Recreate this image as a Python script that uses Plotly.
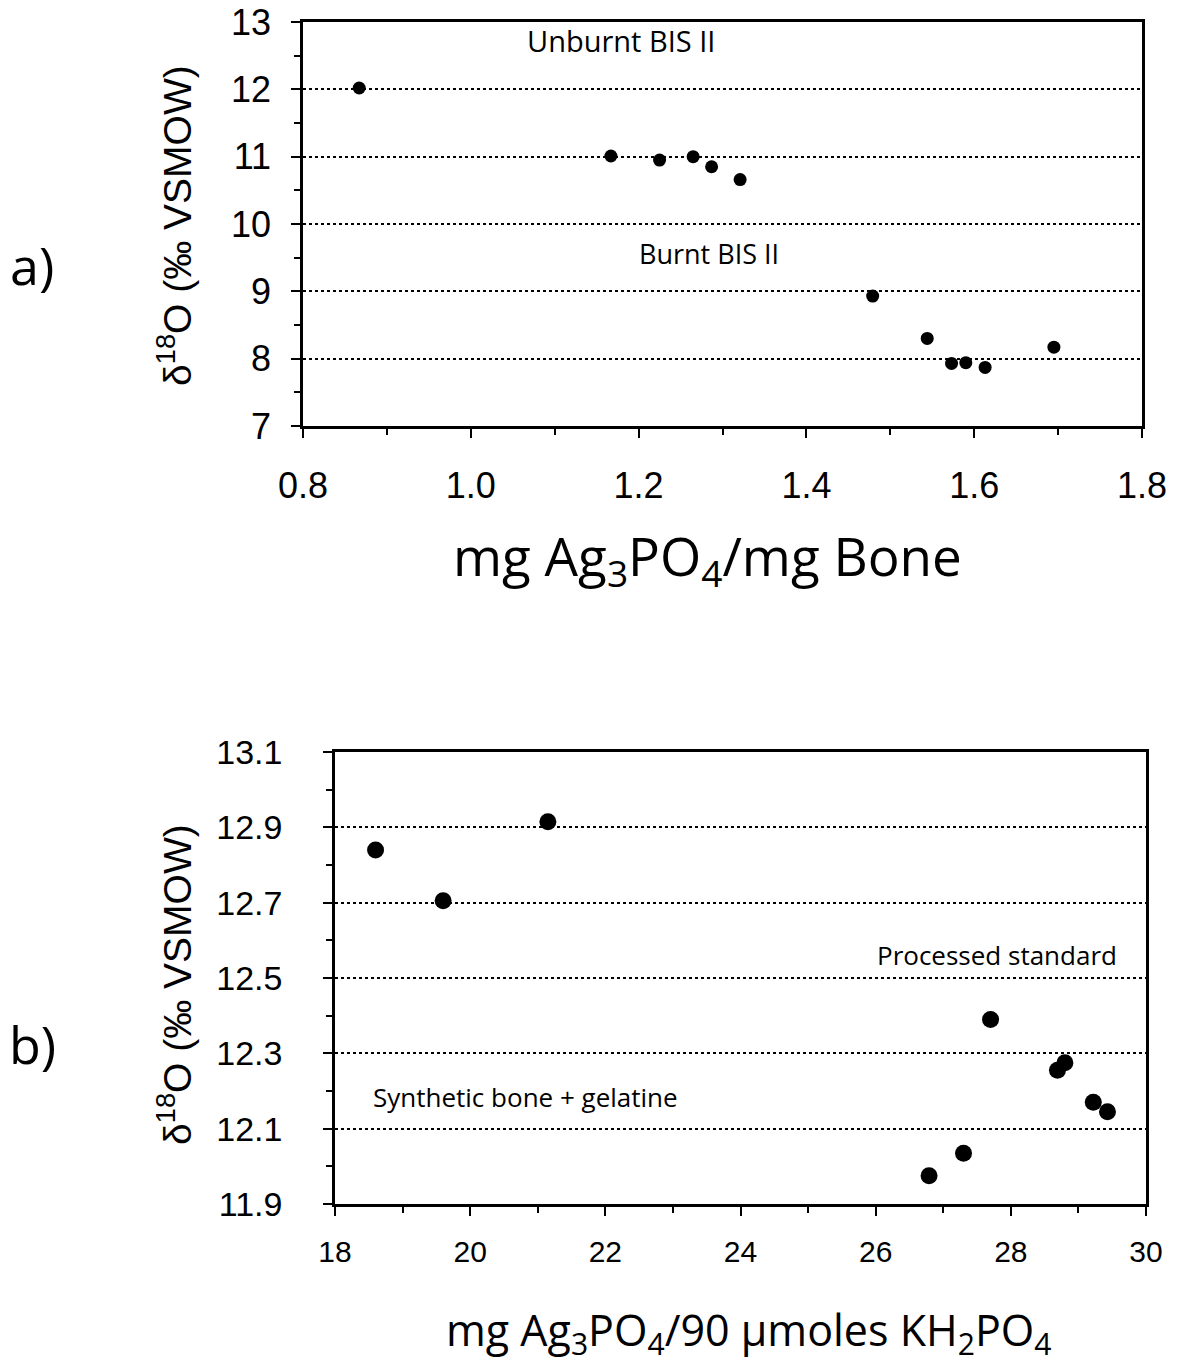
import plotly.graph_objects as go

# ---- data (panel a) ----
a_x = [0.867, 1.167, 1.225, 1.265, 1.287, 1.321, 1.479, 1.544, 1.573, 1.590, 1.613, 1.695]
a_y = [12.02, 11.01, 10.95, 11.00, 10.85, 10.66, 8.93, 8.30, 7.93, 7.94, 7.87, 8.17]
a_xticks = [0.8, 1.0, 1.2, 1.4, 1.6, 1.8]
a_xticklabels = ["0.8", "1.0", "1.2", "1.4", "1.6", "1.8"]
a_yticks = [7, 8, 9, 10, 11, 12, 13]

# ---- data (panel b) ----
b_x = [18.6, 19.6, 21.15, 27.70, 28.80, 28.69, 29.22, 29.43, 27.30, 26.79]
b_y = [12.84, 12.705, 12.915, 12.39, 12.275, 12.255, 12.17, 12.145, 12.035, 11.975]
b_xticks = [18, 20, 22, 24, 26, 28, 30]
b_yticks = [11.9, 12.1, 12.3, 12.5, 12.7, 12.9, 13.1]
b_yticklabels = ["11.9", "12.1", "12.3", "12.5", "12.7", "12.9", "13.1"]

W, H = 1186, 1366
TICKFONT = "Liberation Sans, Arial, sans-serif"
TEXTFONT = "Open Sans, Noto Sans, sans-serif"

def px_x(p):
    return p / W

def px_y(p):
    return 1 - p / H

fig = go.Figure()
fig.add_trace(go.Scatter(x=a_x, y=a_y, mode="markers", xaxis="x", yaxis="y",
                         marker=dict(color="black", size=13), showlegend=False))
fig.add_trace(go.Scatter(x=b_x, y=b_y, mode="markers", xaxis="x2", yaxis="y2",
                         marker=dict(color="black", size=17), showlegend=False))

axis_common = dict(showline=True, linecolor="black", linewidth=2.5, mirror=True,
                   zeroline=False, ticks="outside", tickcolor="black", tickwidth=2,
                   color="black", automargin=False)

fig.update_layout(
    width=W, height=H,
    margin=dict(l=0, r=0, t=0, b=0, autoexpand=False),
    paper_bgcolor="white", plot_bgcolor="white",
    xaxis=dict(domain=[px_x(303), px_x(1142)], anchor="y", range=[0.8, 1.8],
               tickvals=a_xticks, ticktext=a_xticklabels, ticklen=9,
               minor=dict(dtick=0.1, tick0=0.8, ticks="outside", ticklen=6, tickcolor="black", showgrid=False),
               showgrid=False, tickfont=dict(family=TICKFONT, size=36),
               ticklabelstandoff=17, **axis_common),
    yaxis=dict(domain=[px_y(426), px_y(22)], anchor="x", range=[7, 13],
               tickvals=a_yticks, ticklen=9,
               minor=dict(dtick=0.5, tick0=7, ticks="outside", ticklen=6, tickcolor="black", showgrid=False),
               showgrid=True, gridcolor="black", gridwidth=1.5, griddash="dot",
               tickfont=dict(family=TICKFONT, size=36), ticklabelstandoff=13,
               **axis_common),
    xaxis2=dict(domain=[px_x(335), px_x(1146)], anchor="y2", range=[18, 30],
                tickvals=b_xticks, ticklen=9,
                minor=dict(dtick=1, tick0=18, ticks="outside", ticklen=6, tickcolor="black", showgrid=False),
                showgrid=False, tickfont=dict(family=TICKFONT, size=30),
                ticklabelstandoff=10, **axis_common),
    yaxis2=dict(domain=[px_y(1204), px_y(752)], anchor="x2", range=[11.9, 13.1],
                tickvals=b_yticks, ticktext=b_yticklabels, ticklen=9,
                minor=dict(dtick=0.1, tick0=11.9, ticks="outside", ticklen=6, tickcolor="black", showgrid=False),
                showgrid=True, gridcolor="black", gridwidth=1.5, griddash="dot",
                tickfont=dict(family=TICKFONT, size=34), ticklabelstandoff=34,
                **axis_common),
)

annots = [
    # axis titles
    dict(x=px_x(707), y=px_y(558), text="mg Ag<sub>3</sub>PO<sub>4</sub>/mg Bone",
         font=dict(family=TEXTFONT, size=53)),
    dict(x=px_x(748), y=px_y(1332), text="mg Ag<sub>3</sub>PO<sub>4</sub>/90 μmoles KH<sub>2</sub>PO<sub>4</sub>",
         font=dict(family=TEXTFONT, size=43)),
    dict(x=px_x(174), y=px_y(226), text="δ<sup>18</sup>O (‰ VSMOW)", textangle=-90,
         font=dict(family=TICKFONT, size=39)),
    dict(x=px_x(174), y=px_y(985), text="δ<sup>18</sup>O (‰ VSMOW)", textangle=-90,
         font=dict(family=TICKFONT, size=39)),
    # panel labels
    dict(x=px_x(32), y=px_y(264), text="a)", font=dict(family=TEXTFONT, size=52)),
    dict(x=px_x(32), y=px_y(1043), text="b)", font=dict(family=TEXTFONT, size=52)),
    # in-plot labels
    dict(x=px_x(621), y=px_y(40), text="Unburnt BIS II", font=dict(family=TEXTFONT, size=29)),
    dict(x=px_x(709), y=px_y(254), text="Burnt BIS II", font=dict(family=TEXTFONT, size=27)),
    dict(x=px_x(997), y=px_y(955), text="Processed standard", font=dict(family=TEXTFONT, size=26)),
    dict(x=px_x(525), y=px_y(1097), text="Synthetic bone + gelatine", font=dict(family=TEXTFONT, size=26)),
]
for a in annots:
    a.update(xref="paper", yref="paper", showarrow=False, xanchor="center", yanchor="middle")
    a["font"]["color"] = "black"
fig.update_layout(annotations=annots)

fig.write_html("out.html")
